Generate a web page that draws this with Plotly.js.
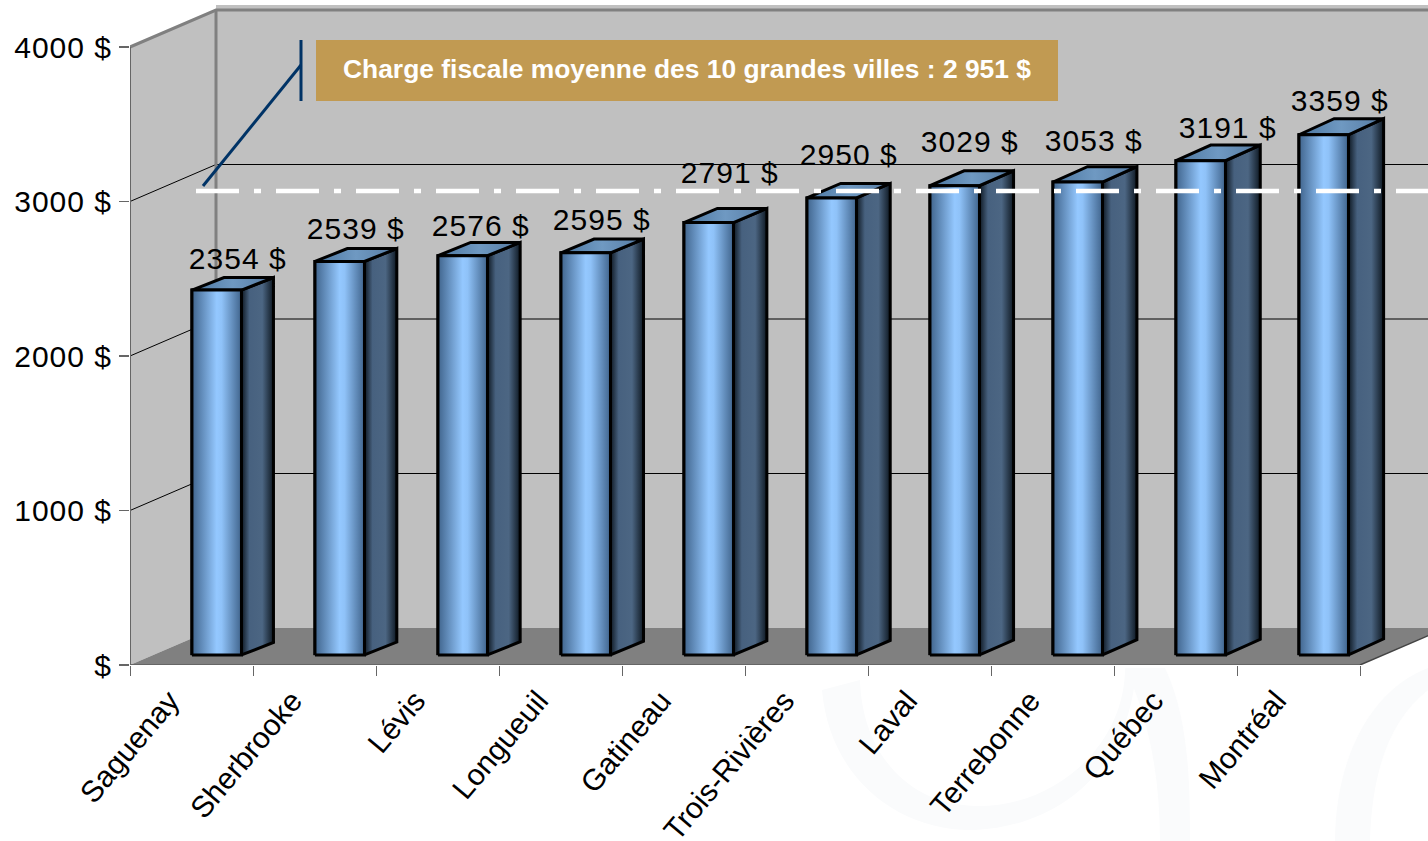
<!DOCTYPE html>
<html><head><meta charset="utf-8">
<script src="https://cdn.plot.ly/plotly-3.0.1.min.js"></script>
<style>
html,body{margin:0;padding:0;background:#fff;overflow:hidden}
.ytick text,.textpoint text{letter-spacing:1px}
</style></head><body><div id="chart" style="width:1428px;height:841px"></div>
<script>
const cities = ['Saguenay','Sherbrooke','Lévis','Longueuil','Gatineau','Trois-Rivières','Laval','Terrebonne','Québec','Montréal'];
const values = [2354,2539,2576,2595,2791,2950,3029,3053,3191,3359];
const labelLift = [29,30,27,30,47,40,41,39,30,31];
const labelShift = [21,16,18,16,21,17,15,16,27,16];
const yTicks = [0,1000,2000,3000,4000];
const yTickText = ['$','1000 $','2000 $','3000 $','4000 $'];
const averageLineValue = 3068;
const calloutText = 'Charge fiscale moyenne des 10 grandes villes : 2 951 $';

const W=1428,H=841,L=130,B=665,T=5,PXX=123,PXY=0.1545;
const xMax=(W-L)/PXX, yMax=(B-T)/PXY;
const dX=86/PXX, dY=37/PXY, floorBase=65, topLift=8, barW=49.5/PXX, font='"Liberation Sans", Arial, sans-serif';
const base=floorBase+topLift;
const ux=p=>(p-L)/PXX, uy=p=>(B-p)/PXY;
const centers=cities.map((c,i)=>i+0.705);
const traces=[{type:'bar',x:centers,y:values,base:base,width:barW,marker:{color:'#7fb0e6',line:{color:'#000',width:3}},hoverinfo:'x+y',showlegend:false}];
const frontG=[[0,'#40648c'],[0.5,'#94c8ff'],[0.6,'#8fc2f8'],[1,'#40648c']];
const sideG=[[0,'#0e1822'],[0.25,'#47617f'],[0.65,'#4c6683'],[1,'#0e1822']];
const topG=[[0,'#4a759f'],[0.5,'#6f99c2'],[1,'#557aa1']];
values.forEach((v,i)=>{
  const l=centers[i]-barW/2,r=centers[i]+barW/2,b=floorBase,t=base+v;
  const sx=(32+0.35*i)/PXX, sy=(12.5+0.4*i)/PXY;
  const common={type:'scatter',mode:'lines',fill:'toself',hoverinfo:'skip',showlegend:false,line:{color:'#000',width:3}};
  traces.push(Object.assign({},common,{x:[r,r+sx,r+sx,r,r],y:[b,b+sy,t+sy,t,b],fillgradient:{type:'horizontal',colorscale:sideG}}));
  traces.push(Object.assign({},common,{x:[l,r,r+sx,l+sx,l],y:[t,t,t+sy,t+sy,t],fillgradient:{type:'horizontal',colorscale:topG}}));
  traces.push(Object.assign({},common,{x:[l,r,r,l,l],y:[b,b,t,t,b],fillgradient:{type:'horizontal',colorscale:frontG}}));
});
traces.push({type:'scatter',mode:'text',x:centers.map((c,i)=>c+labelShift[i]/PXX),y:values.map((v,i)=>base+v+labelLift[i]/PXY),
  text:values.map(v=>v+' $'),textposition:'middle center',textfont:{family:font,size:30,color:'#000'},hoverinfo:'skip',showlegend:false,cliponaxis:false});

const poly=(xs,ys)=>'M'+xs.map((x,i)=>x+','+ys[i]).join('L')+'Z';
const pp=(x,y)=>((x-L)/(W-L)).toFixed(4)+','+((B-y)/(B-T)).toFixed(4);
const wm=(d)=>({type:'path',xref:'paper',yref:'paper',layer:'below',path:d,fillcolor:'#fafbfc',line:{width:0}});
const shapes=[
  wm('M'+pp(822,690)+'C'+pp(830,780)+' '+pp(900,832)+' '+pp(975,830)+'C'+pp(1060,826)+' '+pp(1125,770)+' '+pp(1135,680)+'L'+pp(1125,668)+'C'+pp(1125,745)+' '+pp(1055,808)+' '+pp(975,806)+'C'+pp(905,804)+' '+pp(862,750)+' '+pp(860,680)+'Z'),
  wm('M'+pp(1165,668)+'C'+pp(1190,720)+' '+pp(1190,790)+' '+pp(1190,841)+'L'+pp(1160,841)+'C'+pp(1160,780)+' '+pp(1150,720)+' '+pp(1125,668)+'Z'),
  wm('M'+pp(1428,668)+'C'+pp(1370,690)+' '+pp(1335,760)+' '+pp(1335,841)+'L'+pp(1370,841)+'C'+pp(1372,770)+' '+pp(1390,720)+' '+pp(1428,690)+'Z'),
  {type:'path',layer:'below',path:poly([0,dX,dX,0],[4000,4000+dY,dY,0]),fillcolor:'#c0c0c0',line:{width:0}},
  {type:'path',layer:'below',path:poly([dX,xMax,xMax,dX],[dY,dY,yMax,yMax]),fillcolor:'#c0c0c0',line:{width:0}},
  {type:'path',layer:'below',path:poly([0,10,10+dX,dX],[0,0,dY,dY]),fillcolor:'#808080',line:{width:0}}
];
yTicks.slice(1,4).forEach(v=>shapes.push({type:'path',layer:'below',path:'M0,'+v+'L'+dX+','+(v+dY)+'L'+xMax+','+(v+dY),line:{color:'#000',width:1}}));
shapes.push(
  {type:'path',layer:'below',path:'M0,4000L'+dX+','+(4000+dY)+'L'+xMax+','+(4000+dY),line:{color:'#808080',width:3}},
  {type:'line',layer:'below',x0:dX,x1:dX,y0:dY,y1:4000+dY,line:{color:'#808080',width:3}},
  {type:'line',layer:'below',x0:0,x1:0,y0:0,y1:4000,line:{color:'#666',width:2}},
  {type:'line',layer:'below',x0:0,x1:10,y0:0,y1:0,line:{color:'#666',width:2}},
  {type:'line',layer:'below',x0:10,x1:10+dX,y0:0,y1:dY,line:{color:'#444',width:1.5}},
  {type:'line',layer:'above',x0:ux(196),x1:xMax,y0:averageLineValue,y1:averageLineValue,line:{color:'#fff',width:4.5,dash:'43px,15px,7px,15px'}},
  {type:'line',layer:'above',x0:ux(203),x1:ux(301),y0:uy(186),y1:uy(65),line:{color:'#003366',width:3}},
  {type:'line',layer:'above',x0:ux(301),x1:ux(301),y0:uy(40),y1:uy(101),line:{color:'#003366',width:3}},
  {type:'rect',layer:'above',x0:ux(316),x1:ux(1058),y0:uy(101),y1:uy(40),fillcolor:'#c19a52',line:{width:0}}
);
const layout={width:W,height:H,paper_bgcolor:'#fff',plot_bgcolor:'rgba(0,0,0,0)',showlegend:false,barmode:'overlay',
  margin:{l:L,r:0,t:T,b:H-B,pad:0},
  xaxis:{type:'linear',range:[0,xMax],showgrid:false,zeroline:false,showline:false,ticks:'',
    tickmode:'array',tickvals:cities.map((c,i)=>i+0.32),ticktext:cities,tickangle:-50,ticklabelstandoff:11,
    tickfont:{family:font,size:30,color:'#000'},
    minor:{tickmode:'array',tickvals:[0,1,2,3,4,5,6,7,8,9,10],ticks:'outside',ticklen:10,tickcolor:'#666',tickwidth:1,showgrid:false}},
  yaxis:{range:[0,yMax],showgrid:false,zeroline:false,showline:false,ticks:'outside',ticklen:10,tickcolor:'#666',tickwidth:1.5,
    tickmode:'array',tickvals:yTicks,ticktext:yTickText,ticklabelstandoff:1,tickfont:{family:font,size:30,color:'#000'}},
  shapes:shapes,
  annotations:[{xref:'x',yref:'y',x:ux(687),y:uy(68.5),text:'<b>'+calloutText+'</b>',showarrow:false,
    align:'center',font:{family:font,size:26.4,color:'#fff'}}]
};
Plotly.newPlot('chart',traces,layout,{displayModeBar:false,staticPlot:true});
</script></body></html>
